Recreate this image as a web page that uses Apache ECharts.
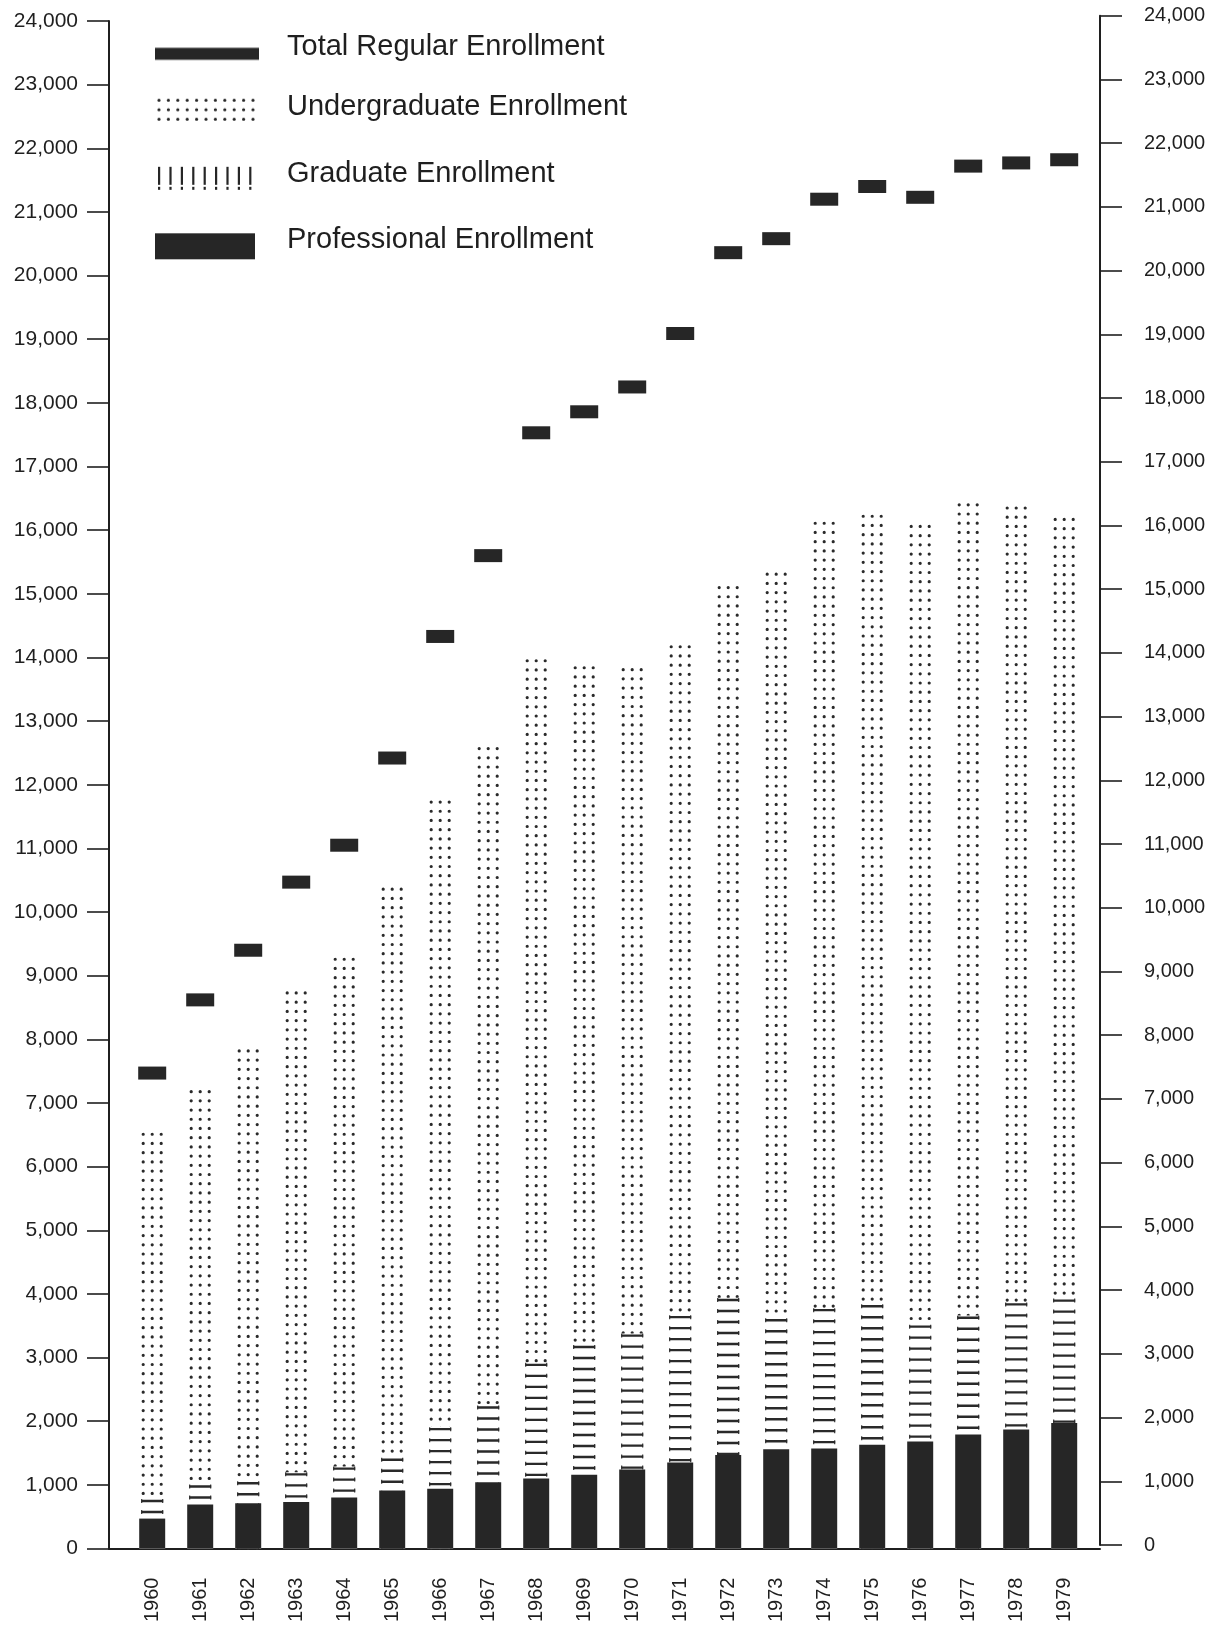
<!DOCTYPE html>
<html><head><meta charset="utf-8">
<script src="https://cdn.jsdelivr.net/npm/echarts@6/dist/echarts.min.js"></script>
<style>html,body{margin:0;padding:0;background:#fff;}#chart{width:1220px;height:1625px;}</style>
</head><body><div id="chart"></div>
<script>
// ---------------- data ----------------
const years = [1960,1961,1962,1963,1964,1965,1966,1967,1968,1969,1970,1971,1972,1973,1974,1975,1976,1977,1978,1979];
const totalRegular = [7470,8620,9400,10470,11050,12420,14330,15600,17530,17860,18250,19090,20360,20580,21200,21400,21230,21720,21770,21820];
const undergraduate = [6540,7210,7850,8760,9290,10390,11760,12600,13980,13870,13840,14200,15130,15340,16140,16250,16090,16430,16380,16200];
const graduate = [780,1010,1060,1200,1290,1430,1910,2250,2920,3200,3380,3670,3940,3620,3780,3840,3520,3660,3870,3930];
const professional = [470,690,710,730,800,910,940,1040,1100,1160,1240,1350,1470,1560,1570,1630,1680,1790,1870,1970];
const seriesNames = ['Total Regular Enrollment','Undergraduate Enrollment','Graduate Enrollment','Professional Enrollment'];
const yMin = 0, yMax = 24000, yStep = 1000;

// ---------------- layout / style ----------------
const INK = '#1f1f1f';
const MARK = '#262626';
const FONT = '"Liberation Sans", Arial, Helvetica, sans-serif';
const GRID_L = 109, GRID_R = 120;          // axis lines at x=109 and x=1100
const PX_PER_YEAR = 48;
const xMin = 1959.1;
const xMax = xMin + (1220 - GRID_L - GRID_R) / PX_PER_YEAR;
const BAR_W = 26;

function mkCanvas(w, h) { const c = document.createElement('canvas'); c.width = w; c.height = h; return c; }

// legend icons (127 x 40, shape offset below text middle)
function legendIcon(kind) {
  const c = mkCanvas(127, 40), g = c.getContext('2d');
  g.fillStyle = MARK;
  if (kind === 0) { g.fillRect(0, 20.5, 104, 12); }
  else if (kind === 1) {
    for (let r = 0; r < 3; r++) for (let i = 0; i < 11; i++) {
      g.beginPath(); g.arc(4 + i * 9.4, 13.5 + r * 9.5, 1.6, 0, Math.PI * 2); g.fill();
    }
  } else if (kind === 2) {
    for (let i = 0; i < 9; i++) {
      const x = 3 + i * 11.4;
      g.fillRect(x, 13, 2.2, 18); g.fillRect(x, 33, 2.2, 3);
    }
  } else { g.fillRect(0, 13, 100, 26); }
  return 'image://' + c.toDataURL();
}

function yAxisCommon(gridIndex, position, margin, fs) {
  return {
    type: 'value', gridIndex, position, min: yMin, max: yMax, interval: yStep,
    axisLine: { show: true, onZero: false, lineStyle: { color: INK, width: 2 } },
    axisTick: { show: true, length: 22, lineStyle: { color: INK, width: 1.6 } },
    splitLine: { show: false },
    axisLabel: { margin, color: INK, fontSize: fs, fontFamily: FONT,
      formatter: v => v.toLocaleString('en-US') }
  };
}

// dotted undergraduate bar: three columns of dots
function renderDots(params, api) {
  const x = api.value(0), v = api.value(1);
  const top = api.coord([x, v]), base = api.coord([x, 0]);
  const cx = top[0];
  const children = [-9, 0, 9].map(dx => ({
    type: 'line',
    shape: { x1: cx + dx, y1: top[1] + 2, x2: cx + dx, y2: base[1] },
    style: { stroke: '#2a2a2a', lineWidth: 3.2, lineDash: [0.01, 9.2], lineCap: 'round', fill: null }
  }));
  return { type: 'group', children };
}
// striped graduate bar: white body with horizontal dashes (small bracket ends)
function renderStripes(params, api) {
  const x = api.value(0), v = api.value(1);
  const top = api.coord([x, v]), base = api.coord([x, 0]);
  const cx = top[0];
  const y0 = top[1] + 1;
  return { type: 'group', children: [
    { type: 'rect', shape: { x: cx - BAR_W / 2, y: top[1], width: BAR_W, height: base[1] - top[1] },
      style: { fill: '#fff' } },
    { type: 'line', shape: { x1: cx, y1: y0, x2: cx, y2: base[1] },
      style: { stroke: '#2a2a2a', lineWidth: 22, lineDash: [2.4, 8.6], lineCap: 'butt', fill: null } },
    { type: 'line', shape: { x1: cx - 10.5, y1: y0 - 0.8, x2: cx - 10.5, y2: base[1] },
      style: { stroke: '#2a2a2a', lineWidth: 1.1, lineDash: [4, 7], lineCap: 'butt', fill: null } },
    { type: 'line', shape: { x1: cx + 10.5, y1: y0 - 0.8, x2: cx + 10.5, y2: base[1] },
      style: { stroke: '#2a2a2a', lineWidth: 1.1, lineDash: [4, 7], lineCap: 'butt', fill: null } }
  ]};
}

const chart = echarts.init(document.getElementById('chart'), null, { renderer: 'canvas' });
const legendTops = [27.3, 86.7, 153.8, 220.3];

chart.setOption({
  backgroundColor: '#fff',
  animation: false,
  grid: [
    { left: GRID_L, right: GRID_R, top: 21, bottom: 73 },
    { left: GRID_L, right: GRID_R, top: 15.7, bottom: 80 }
  ],
  legend: seriesNames.map((n, i) => ({
    left: 155, top: legendTops[i], padding: 0, orient: 'vertical',
    itemWidth: 127, itemHeight: 40, selectedMode: false,
    data: [{ name: n, icon: legendIcon(i) }],
    textStyle: { fontSize: 29, color: INK, fontFamily: FONT }
  })),
  xAxis: [
    { type: 'value', gridIndex: 0, min: xMin, max: xMax,
      axisLine: { show: true, onZero: false, lineStyle: { color: INK, width: 2 } },
      axisTick: { show: false }, splitLine: { show: false },
      axisLabel: { customValues: years, rotate: 90, margin: 29, color: INK, fontSize: 20,
        fontFamily: FONT, formatter: v => String(v) } },
    { type: 'value', gridIndex: 1, min: 0, max: 1, show: false,
      axisLine: { show: false }, axisTick: { show: false }, axisLabel: { show: false }, splitLine: { show: false } }
  ],
  yAxis: [ yAxisCommon(0, 'left', 31, 21), yAxisCommon(1, 'right', 44, 20) ],
  series: [
    { name: seriesNames[1], type: 'custom', xAxisIndex: 0, yAxisIndex: 0, renderItem: renderDots,
      encode: { x: 0, y: 1 }, data: years.map((y, i) => [y, undergraduate[i]]) },
    { name: seriesNames[2], type: 'custom', xAxisIndex: 0, yAxisIndex: 0, renderItem: renderStripes,
      encode: { x: 0, y: 1 }, data: years.map((y, i) => [y, graduate[i]]) },
    { name: seriesNames[3], type: 'bar', xAxisIndex: 0, yAxisIndex: 0, barWidth: BAR_W,
      itemStyle: { color: MARK }, data: years.map((y, i) => [y, professional[i]]) },
    { name: seriesNames[0], type: 'scatter', xAxisIndex: 0, yAxisIndex: 0, symbol: 'rect',
      symbolSize: [28, 13], itemStyle: { color: MARK, opacity: 1 }, z: 5,
      data: years.map((y, i) => [y, totalRegular[i]]) }
  ]
});
</script></body></html>
